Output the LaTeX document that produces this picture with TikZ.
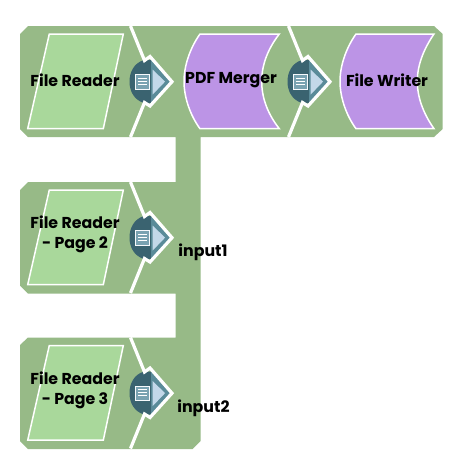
\documentclass[tikz,border=0pt]{standalone}
\usepackage{fontspec}
\setmainfont{Poppins}
\usepackage{xcolor}
\usepackage{tikz}
\usetikzlibrary{positioning,calc}

\definecolor{snapgreen}{HTML}{97BA87}
\definecolor{readgreen}{HTML}{A9D89B}
\definecolor{viewpurple}{HTML}{BC94E6}
\definecolor{portdark}{HTML}{3A6370}
\definecolor{portteal}{HTML}{5A8B99}
\definecolor{portlight}{HTML}{C3D8E9}

\tikzset{
  snapbody/.style={fill=snapgreen, draw=none},
  readshape/.style={fill=readgreen, draw=white, line width=1.5pt},
  flowshape/.style={fill=viewpurple, draw=white, line width=1.5pt},
  snaplabel/.style={font=\bfseries\fontsize{15.8}{20}\selectfont, align=center, inner sep=0pt, text=black},
  cutline/.style={draw=white, line width=3.2pt, line join=miter},
  outport/.pic={
    \fill[portdark] (144,60) .. controls (134,63) and (129.5,72) .. (129.5,81.7)
      .. controls (129.5,91) and (134,100) .. (144,103) -- (152,103) -- (152,60) -- cycle;
    \fill[portteal] (151,60) -- (170,81.7) -- (151,103) -- cycle;
    \fill[portlight] (152.7,69.5) -- (165,81.7) -- (152.7,94.5) -- cycle;
    \draw[cutline] (130.5,26) -- (144.5,60.5) -- (150,56.5) -- (172,81.7) -- (150,106) -- (144.5,102.5) -- (130.5,137);
    \fill[portteal!70!portlight, draw=white!85!portlight, line width=0.7pt] (135,74.5) rectangle (149.5,89);
    \draw[white, line width=0.8pt] (138,78) -- (146.5,78) (138,81) -- (146.5,81) (138,84) -- (146.5,84);
  }
}

\begin{document}
\begin{tikzpicture}[x=1pt, y=-1pt]
  \useasboundingbox (0,0) rectangle (458,464);
  % snap bodies
  \fill[snapbody] (20,34) -- (28,26) -- (434,26) -- (442.7,34) -- (442.7,129) -- (434,137)
    -- (200.5,137) -- (200.5,441) -- (192.5,449) -- (28,449) -- (20,441) -- (20,345) -- (28,337.5)
    -- (175.7,337.5) -- (175.7,293.5) -- (28,293.5) -- (20,285.5) -- (20,190) -- (28,182)
    -- (175.7,182) -- (175.7,137) -- (28,137) -- (20,129) -- cycle;
  % parallelograms
  \foreach \dy in {0,156,311.5}
    \draw[readshape] (49.3,34+\dy) -- (123.3,34+\dy) -- (103.3,128.7+\dy) -- (27.7,128.7+\dy) -- cycle;
  % curved views
  \draw[flowshape] (200,34) -- (279.3,34) .. controls (267,50) and (261.7,66) .. (261.7,81.3)
    .. controls (261.7,97) and (267,113) .. (279.3,128.7) -- (200,128.7)
    .. controls (190,115) and (184,97) .. (184,81.3) .. controls (184,66) and (190,48) .. (200,34) -- cycle;
  \draw[flowshape] (356,34) -- (434,34) .. controls (423,50) and (417.3,66) .. (417.3,81.3)
    .. controls (417.3,97) and (423,113) .. (434,128.7) -- (356,128.7)
    .. controls (346,115) and (340,97) .. (340,81.3) .. controls (340,66) and (346,48) .. (356,34) -- cycle;
  % ports
  \foreach \dx/\dy in {0/0,158/0,0/156,0/311.5}
    \pic[shift={(\dx,\dy)}] {outport};
  % labels
  \node[snaplabel] (reader1) at (75,80) {File Reader};
  \node[snaplabel] (merger) at (231,80) {PDF Merger};
  \node[snaplabel] (writer) at (387,80) {File Writer};
  \node[snaplabel] (reader2) at (75,234.5) {File Reader\\- Page 2};
  \node[snaplabel] (reader3) at (75,390.5) {File Reader\\- Page 3};
  \node[snaplabel] (input1) at (203,252) {input1};
  \node[snaplabel] (input2) at (203.5,408) {input2};
\end{tikzpicture}
\end{document}
